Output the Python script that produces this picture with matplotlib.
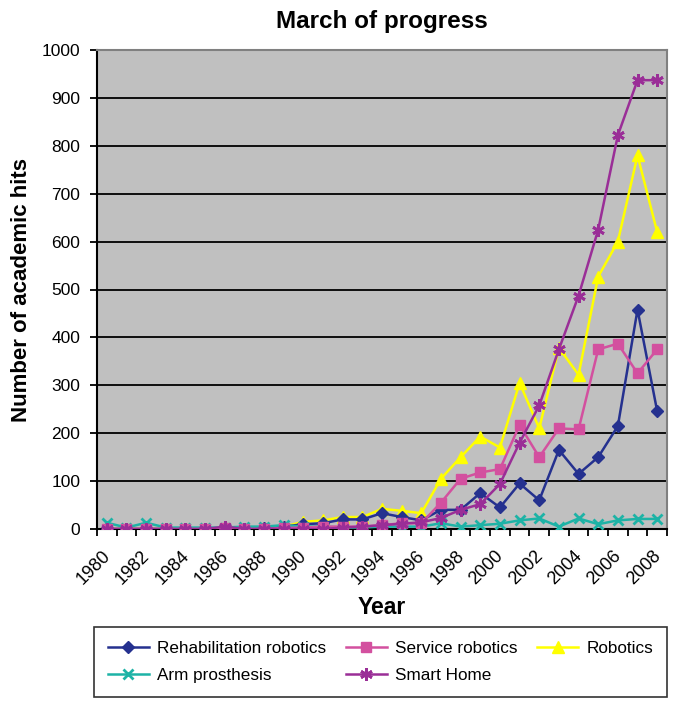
import matplotlib.pyplot as plt
import matplotlib.transforms as mtransforms
import numpy as np

plt.rcParams['font.family'] = ['Liberation Sans', 'DejaVu Sans']

# --- Data ---
years = list(range(1980, 2009))

rehab = [0, 0, 0, 0, 0, 0, 2, 0, 2, 5, 10, 12, 20, 20, 33, 25, 18,
         40, 40, 75, 45, 95, 60, 165, 115, 150, 215, 458, 246]
service = [0, 0, 0, 0, 0, 0, 3, 0, 0, 2, 3, 5, 5, 5, 8, 12, 12,
           55, 105, 118, 125, 217, 150, 210, 208, 375, 387, 325, 375]
robotics = [0, 0, 0, 0, 0, 0, 0, 0, 2, 5, 15, 18, 25, 25, 42, 38, 33,
            105, 150, 193, 170, 305, 210, 378, 322, 527, 600, 780, 620]
arm = [13, 3, 13, 3, 3, 3, 3, 5, 5, 8, 5, 5, 3, 3, 5, 5, 5,
       12, 5, 8, 11, 18, 22, 5, 22, 10, 18, 21, 21]
smart = [0, 0, 0, 0, 0, 0, 5, 0, 0, 0, 0, 0, 3, 5, 8, 11, 14,
         23, 40, 52, 94, 180, 258, 375, 487, 625, 822, 937, 937]

x = np.arange(len(years))

# --- Figure ---
fig = plt.figure(figsize=(6.81, 7.09), dpi=100)
ax = fig.add_axes([97 / 681, 1 - 529 / 709, 570 / 681, 479 / 709])
ax.set_facecolor('#C0C0C0')

for y in range(100, 1001, 100):
    ax.axhline(y, color='black', lw=1.3, zorder=1)

ms = 7
lw = 1.8
h_rehab, = ax.plot(x, rehab, color='#25318F', marker='D', ms=ms - 0.5, lw=lw, label='Rehabilitation robotics', zorder=3)
h_arm, = ax.plot(x, arm, color='#1DB3A6', marker='x', ms=ms, mew=2, lw=lw, label='Arm prosthesis', zorder=3)
h_serv, = ax.plot(x, service, color='#D3509F', marker='s', ms=ms - 0.5, lw=lw, label='Service robotics', zorder=3)
h_smart, = ax.plot(x, smart, color='#9A2E97', marker=(6, 2, 0), ms=ms + 2, mew=2, lw=lw, label='Smart Home', zorder=3)
h_rob, = ax.plot(x, robotics, color='#FFFF00', marker='^', ms=ms + 1, lw=lw, label='Robotics', zorder=2.5)

ax.set_xlim(-0.5, len(years) - 0.5)
ax.set_ylim(0, 1000)
ax.set_yticks(range(0, 1001, 100))
ax.tick_params(axis='y', labelsize=12.5, length=5, width=1.3, direction='out', pad=7)

# category labels every second year, tick marks at category boundaries
ax.set_xticks(x[::2])
ax.set_xticklabels([str(yr) for yr in years[::2]], rotation=45, ha='right',
                   rotation_mode='anchor', fontsize=13)
ax.set_xticks(np.arange(-0.5, len(years), 1), minor=True)
ax.tick_params(axis='x', which='major', length=0, pad=13)
ax.tick_params(axis='x', which='minor', length=5, width=1.3, direction='out')
shift = mtransforms.ScaledTranslation(-5 / 100, 0, fig.dpi_scale_trans)
for lab in ax.get_xticklabels():
    lab.set_transform(lab.get_transform() + shift)

for side in ['left', 'bottom']:
    ax.spines[side].set_color('black')
    ax.spines[side].set_linewidth(1.5)
for side in ['top', 'right']:
    ax.spines[side].set_color('#808080')
    ax.spines[side].set_linewidth(1.5)

ax.set_title('March of progress', fontsize=17.5, fontweight='bold', pad=16)
ax.set_ylabel('Number of academic hits', fontsize=16, fontweight='bold', labelpad=7)
ax.set_xlabel('Year', fontsize=16.5, fontweight='bold', labelpad=6)

leg = fig.legend(handles=[h_rehab, h_arm, h_serv, h_smart, h_rob], ncol=3,
                 loc='lower left', bbox_to_anchor=(94 / 681, 12 / 709, 573 / 681, 69 / 709),
                 mode='expand', fontsize=12.3, frameon=True, fancybox=False,
                 edgecolor='black', handlelength=2.4, handletextpad=0.5,
                 borderpad=0.8, labelspacing=0.75, borderaxespad=0)
leg.get_frame().set_linewidth(1.2)

fig.savefig('out.png', dpi=100)
